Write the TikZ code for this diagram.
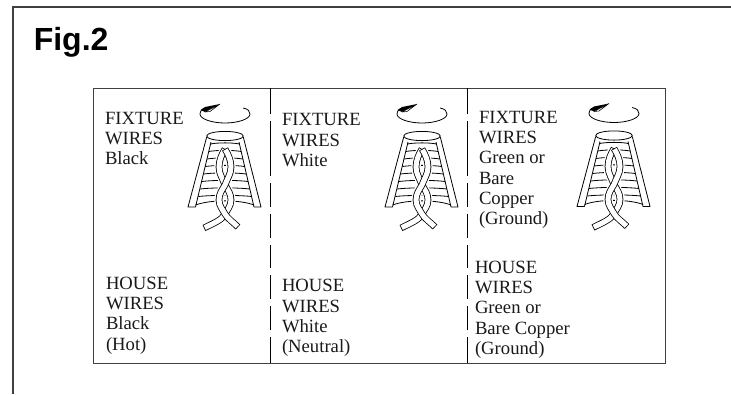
\documentclass[tikz,border=0pt]{standalone}
\usepackage{fontspec}
\setmainfont{Liberation Serif}
\newfontfamily\figfont{Liberation Sans}
\newcommand{\strandA}{(0,13) .. controls (3,18) and (6,24) .. (6,31) .. controls (6,38) and (2,43) .. (0,49) .. controls (-3,54) and (-6,58) .. (-6,64) .. controls (-6,70) and (-2,74) .. (0,78) .. controls (3,83) and (8,86) .. (13,91)}
\newcommand{\strandB}{(0,13) .. controls (-3,18) and (-6,24) .. (-6,31) .. controls (-6,38) and (-2,43) .. (0,49) .. controls (3,54) and (6,58) .. (6,64) .. controls (6,70) and (2,74) .. (0,78) .. controls (-3,84) and (-11,87) .. (-21,92)}
\tikzset{
  x=0.75pt,y=-0.75pt,
  frameline/.style={draw=black!75,line width=0.9pt},
  tableline/.style={draw=black!75,line width=0.75pt},
  dashline/.style={draw=black,line width=0.75pt},
  wire/.style={draw=black,line width=0.6pt,line join=round},
  strandout/.style={draw=black,line width=5pt},
  strandin/.style={draw=white,line width=3.8pt,shorten >=0.6pt,shorten <=0.6pt},
  lbl/.style={anchor=north west,inner sep=0pt,outer sep=0pt,align=left,font=\fontsize{14}{15.2}\selectfont,text=black!90},
  pics/twist/.style={code={
    % rotation arrow
    \draw[wire] (18,-28) .. controls (23,-27) and (25,-25) .. (25,-22)
       .. controls (25,-17) and (13,-13) .. (0,-13)
       .. controls (-13,-13) and (-25,-17) .. (-25,-22)
       .. controls (-25,-24) and (-24,-26) .. (-22,-27);
    \fill[black] (-5,-32) -- (-20,-29) -- (-24.5,-26) -- (-20,-24) -- (-13,-27.5) -- cycle;
    \draw[wire,fill=white,line width=0.4pt] (-5,-32) -- (-20,-24) -- (-15,-24.5) -- cycle;
    % cap
    \draw[wire] (0,0) ellipse (18.3 and 4.6);
    % legs
    \draw[wire] (-18.3,1) -- (-37,71) -- (-29.5,71) -- (-14,6);
    \draw[wire] (18.3,1) -- (36,71) -- (29,71) -- (14,6);
    % rungs
    \foreach \yy in {7,14.5,22,29.5,37,44.5,52,59.5}{
      \pgfmathsetmacro{\ww}{14+(\yy+1-6)*0.232}
      \draw[wire] (-\ww,\yy+1) .. controls (-\ww/2,\yy-0.5) and (\ww/2,\yy-0.5) .. (\ww,\yy+1);
    }
    \draw[wire] (-29.5,69) .. controls (-15,63.5) and (15,63.5) .. (29,69);
    % twist
    \draw[draw=white,line width=7pt] \strandA;
    \draw[draw=white,line width=7pt] \strandB;
    \draw[strandout] \strandB;
    \draw[strandin] \strandB;
    \draw[strandout] \strandA;
    \draw[strandin] \strandA;
  }}
}
\begin{document}
\begin{tikzpicture}
\useasboundingbox (0,0) rectangle (731,394);
\coordinate (ftl) at (13,7);
\coordinate (ftr) at (731,7);
\coordinate (fbl) at (13,394);
\draw[frameline] (fbl) -- (ftl) -- (ftr);
\node[anchor=base west,inner sep=0pt,font=\figfont\bfseries\fontsize{24}{26}\selectfont] (title) at (33.5,50) {Fig.2};
% table
\coordinate (tl) at (93,88);
\coordinate (br) at (665,363);
\draw[tableline] (tl) rectangle (br);
\foreach \xx in {270,467}{
  \draw[dashline] (\xx,88) -- (\xx,114) (\xx,121) -- (\xx,176) (\xx,183) -- (\xx,207) (\xx,214) -- (\xx,238) (\xx,245) -- (\xx,268) (\xx,275) -- (\xx,299) (\xx,306) -- (\xx,330) (\xx,337) -- (\xx,363);
}
% text
\node[lbl] (f1) at (105,112) {FIXTURE\\WIRES\\Black};
\node[lbl] (f2) at (282,113.6) {FIXTURE\\WIRES\\White};
\node[lbl] (f3) at (479,111) {FIXTURE\\WIRES\\Green or\\Bare\\Copper\\(Ground)};
\node[lbl] (h1) at (106,277) {HOUSE\\WIRES\\Black\\(Hot)};
\node[lbl] (h2) at (282,279.6) {HOUSE\\WIRES\\White\\(Neutral)};
\node[lbl] (h3) at (475,261) {HOUSE\\WIRES\\Green or\\Bare Copper\\(Ground)};
% wire icons
\pic at (225,136) {twist};
\pic at (422,136) {twist};
\pic at (614,135.5) {twist};
\end{tikzpicture}
\end{document}
